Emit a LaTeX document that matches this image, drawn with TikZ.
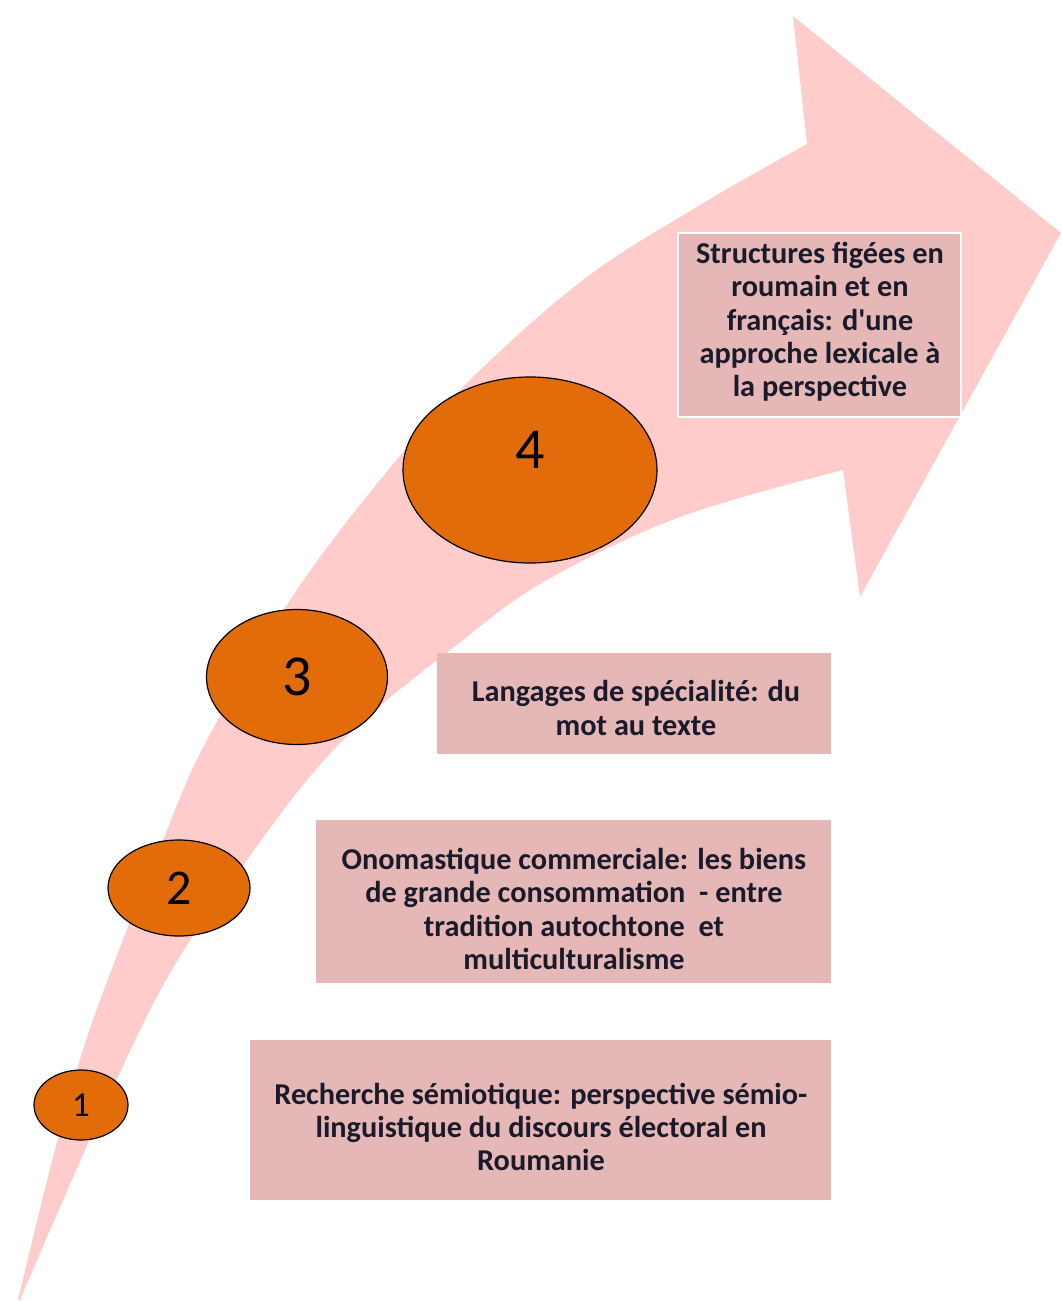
\documentclass[tikz,border=0pt]{standalone}
\usepackage{fontspec}
\setmainfont[Ligatures=TeXOff]{Carlito}
\usetikzlibrary{shapes.geometric}
\definecolor{arrowpink}{HTML}{FFCCCC}
\definecolor{boxpink}{HTML}{E5B8B7}
\definecolor{discorange}{HTML}{E36C0A}
\definecolor{txt}{HTML}{1A1A2A}
\tikzset{
  disc/.style={ellipse, draw=black, line width=1.2pt, fill=discorange, inner sep=0pt, text=black},
  topicbox/.style={rectangle, fill=boxpink, draw=none, align=center, inner sep=0pt, text=txt,
     font=\fontsize{30.3}{33.3}\selectfont\bfseries},
}
\begin{document}
\begin{tikzpicture}[x=1pt,y=-1pt]
\useasboundingbox (0,0) rectangle (1061,1301);
% curved arrow
\fill[arrowpink] plot[smooth, tension=0.6] coordinates {(18,1300) (55,1150) (93,1020) (163,840) (207,740) (290,600) (380,480) (467,383) (583,280) (700,205) (807,144)}
  -- (793,16) -- (1061,233) -- (860,597) -- (843,470)
  -- plot[smooth, tension=0.6] coordinates {(843,470) (680,517) (547,580) (463,640) (343,740) (247,860) (150,1010) (20,1300)} -- cycle;

% discs
\node[disc, minimum width=94pt, minimum height=70pt, font=\fontsize{35}{35}\selectfont] (d1) at (81,1105) {1};
\node[disc, minimum width=142pt, minimum height=96pt, font=\fontsize{50}{50}\selectfont] (d2) at (179,888) {\raisebox{-3pt}{2}};
\node[disc, minimum width=181pt, minimum height=135pt, font=\fontsize{58}{58}\selectfont] (d3) at (297,677) {3};
\node[disc, minimum width=254pt, minimum height=186pt, font=\fontsize{58}{58}\selectfont] (d4) at (530,470) {\raisebox{1.5pt}[0pt][0pt]{4}};

% boxes
\node[topicbox, minimum width=581pt, minimum height=160pt] (b1) at (540.5,1120) {};
\node[topicbox, anchor=center] (t1) at (541,1127) {Recherche sémiotique: perspective sémio-\\linguistique du discours électoral en\\Roumanie};

\node[topicbox, minimum width=515pt, minimum height=163pt] (b2) at (573.5,901.5) {};
\node[topicbox] (t2) at (574,909) {Onomastique commerciale: les biens\\de grande consommation \ - entre\\tradition autochtone \ et\\multiculturalisme};

\node[topicbox, minimum width=394pt, minimum height=101pt] (b3) at (634,703.5) {};
\node[topicbox] (t3) at (636,708) {Langages de spécialité: du\\mot au texte};

\node[topicbox, draw=white, line width=2pt, minimum width=283pt, minimum height=184pt] (b4) at (819.5,325) {};
\node[topicbox] (t4) at (820,322) {Structures figées en\\roumain et en\\français: d'une\\approche lexicale à\\la perspective};
\end{tikzpicture}
\end{document}
